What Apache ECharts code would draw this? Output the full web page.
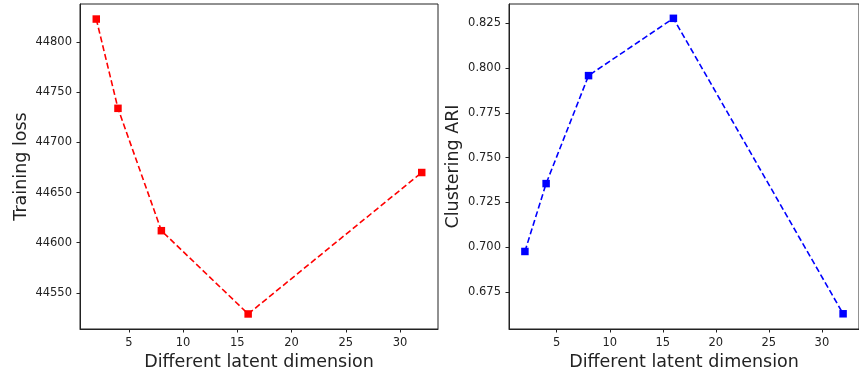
<!DOCTYPE html>
<html>
<head>
<meta charset="utf-8">
<script src="https://cdn.jsdelivr.net/npm/echarts@6/dist/echarts.min.js"></script>
<style>
  html, body { margin: 0; padding: 0; background: #fff; }
  #chart { width: 859px; height: 377px; }
</style>
</head>
<body>
<div id="chart"></div>
<script>
// latent dimensions tried
const dims = [2, 4, 8, 16, 32]
const lossValues = [44823, 44734, 44612, 44529, 44670]
const ariValues = [0.6976, 0.7355, 0.7958, 0.8278, 0.6628]

const xTicks = [5, 10, 15, 20, 25, 30]
const lossTicks = [44550, 44600, 44650, 44700, 44750, 44800]
const ariTicks = [0.675, 0.7, 0.725, 0.75, 0.775, 0.8, 0.825]

const font = 'DejaVu Sans'
const textColor = '#222'

const chart = echarts.init(document.getElementById('chart'))

function xAxis(gridIndex) {
  return {
    type: 'value',
    gridIndex,
    min: 0.5,
    max: 33.5,
    name: 'Different latent dimension',
    nameLocation: 'middle',
    nameGap: 20,
    nameTextStyle: { fontFamily: font, fontSize: 17.5, color: textColor },
    axisLine: { show: true, onZero: false, lineStyle: { color: '#222', width: 1 } },
    axisTick: { show: true, length: 3.5, customValues: xTicks, lineStyle: { color: '#222' } },
    axisLabel: { customValues: xTicks, margin: 8, fontFamily: font, fontSize: 11.5, color: textColor },
    splitLine: { show: false }
  }
}

function yAxis(gridIndex, name, min, max, ticks, fmt, gap) {
  return {
    type: 'value',
    gridIndex,
    min,
    max,
    name,
    nameLocation: 'middle',
    nameGap: gap,
    nameTextStyle: { fontFamily: font, fontSize: 17.5, color: textColor },
    axisLine: { show: true, onZero: false, lineStyle: { color: '#222', width: 1 } },
    axisTick: { show: true, length: 3.5, customValues: ticks, lineStyle: { color: '#222' } },
    axisLabel: { customValues: ticks, margin: 8, formatter: fmt, fontFamily: font, fontSize: 11.5, color: textColor },
    splitLine: { show: false }
  }
}

chart.setOption({
  animation: false,
  grid: [
    { left: 80, top: 4, width: 358, height: 325, show: true, borderColor: '#222', borderWidth: 1 },
    { left: 509, top: 4, width: 357, height: 325, show: true, borderColor: '#222', borderWidth: 1 }
  ],
  xAxis: [xAxis(0), xAxis(1)],
  yAxis: [
    yAxis(0, 'Training loss', 44514, 44838, lossTicks, v => String(Math.round(v)), 50),
    yAxis(1, 'Clustering ARI', 0.6543, 0.8358, ariTicks, v => v.toFixed(3), 47)
  ],
  series: [
    {
      type: 'line',
      xAxisIndex: 0,
      yAxisIndex: 0,
      data: dims.map((d, i) => [d, lossValues[i]]),
      symbol: 'rect',
      symbolSize: 7.5,
      itemStyle: { color: '#ff0000' },
      lineStyle: { color: '#ff0000', width: 1.6, type: [6, 3] }
    },
    {
      type: 'line',
      xAxisIndex: 1,
      yAxisIndex: 1,
      data: dims.map((d, i) => [d, ariValues[i]]),
      symbol: 'rect',
      symbolSize: 7.5,
      itemStyle: { color: '#0000ff' },
      lineStyle: { color: '#0000ff', width: 1.6, type: [6, 3] }
    }
  ]
})
</script>
</body>
</html>
